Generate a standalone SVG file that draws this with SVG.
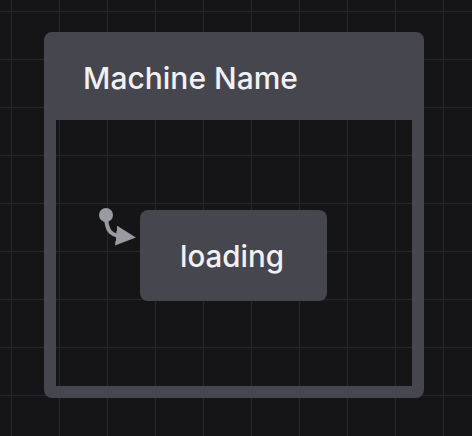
<svg xmlns="http://www.w3.org/2000/svg" width="472" height="436" viewBox="0 0 472 436">
  <defs>
    <pattern id="grid" x="11" y="11" width="48" height="48" patternUnits="userSpaceOnUse">
      <path d="M0 0H48M0 0V48" fill="none" stroke="#28282c" stroke-width="2"/>
    </pattern>
    <marker id="arrow" viewBox="0 0 10 10" refX="2" refY="5" markerWidth="5" markerHeight="5" orient="auto" markerUnits="strokeWidth">
      <path d="M0 0L10 5L0 10Z" fill="#9a9aa2"/>
    </marker>
    <style>
      .node { fill: #46464f; }
      .label { font-family: Inter, "Open Sans", "Liberation Sans", sans-serif; fill: #f1f1f3; font-weight: 500; }
      .edge { fill: none; stroke: #9a9aa2; stroke-width: 4; stroke-linecap: round; }
    </style>
  </defs>
  <rect width="472" height="436" fill="#151518"/>
  <rect width="472" height="436" fill="url(#grid)"/>
  <g id="machine">
    <path class="node" fill-rule="evenodd" d="M52 32H416A8 8 0 0 1 424 40V390A8 8 0 0 1 416 398H52A8 8 0 0 1 44 390V40A8 8 0 0 1 52 32Z M56 120V386H412V120Z"/>
    <text class="label" x="83" y="89" font-size="30" textLength="215" lengthAdjust="spacingAndGlyphs">Machine Name</text>
  </g>
  <g id="loading">
    <rect class="node" x="140" y="210" width="187" height="91" rx="8"/>
    <text class="label" x="180" y="267" font-size="30" textLength="104" lengthAdjust="spacingAndGlyphs">loading</text>
  </g>
  <g id="connectors">
    <circle cx="106" cy="215" r="7" fill="#9a9aa2"/>
    <path class="edge" d="M106 218C107 230 110 235 120 236" marker-end="url(#arrow)"/>
  </g>
</svg>
